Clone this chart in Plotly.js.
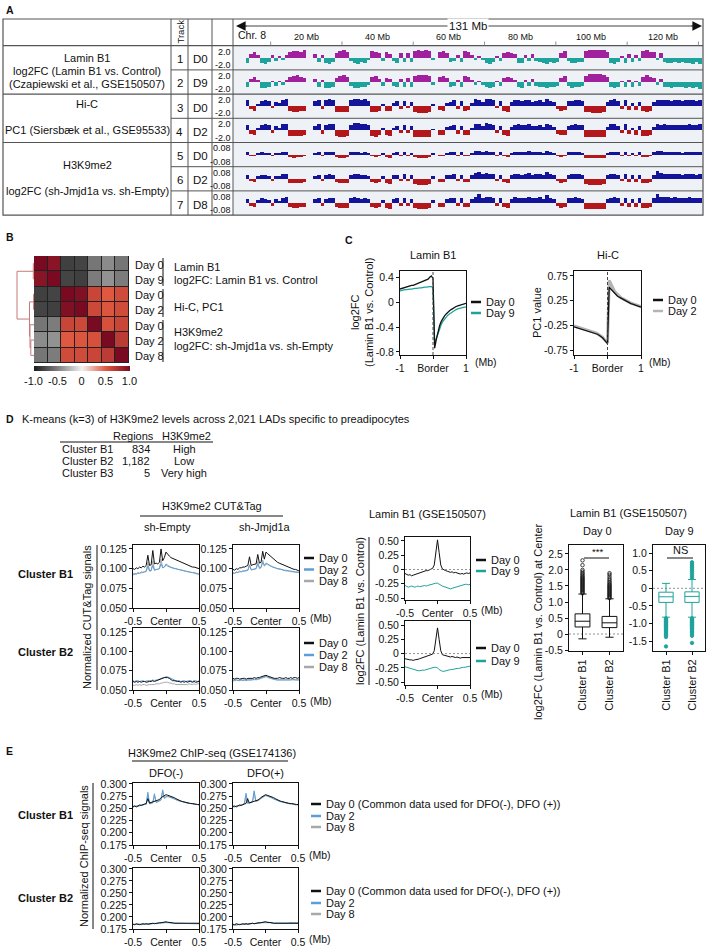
<!DOCTYPE html>
<html>
<head>
<meta charset="utf-8">
<script src="https://cdn.plot.ly/plotly-3.0.1.min.js"></script>
<style>
  html, body { margin: 0; padding: 0; background: #fff; }
  #fig { width: 709px; height: 948px; }
</style>
</head>
<body>
<div id="fig"></div>
<script>
// ---------------- Panel A: chr8 genome tracks, 1 Mb bins (0-131 Mb) ----------------
const chrLabels = ['20 Mb','40 Mb','60 Mb','80 Mb','100 Mb','120 Mb'];
const chrLabelPos = [20, 40, 60, 80, 100, 120];
const chrMinorPos = [10, 30, 50, 70, 90, 110, 130];

const laminD0 = [0,0,0,-1.0,0.8,1.2,0.6,-1.0,-1.2,-0.8,
 0.5,-0.6,0.4,-0.5,0.6,1.2,1.3,1.4,1.2,1.5,
 0,0,0.8,-0.8,0.6,-1.0,-1.2,-0.9,1.0,1.4,
 1.5,1.1,-0.6,-1.0,-1.2,-0.8,-1.0,-0.5,1.3,1.2,
 0.9,-0.6,1.1,0.8,-0.7,-1.0,0.9,-0.9,1.0,-0.8,
 1.3,1.5,1.4,1.5,1.3,-0.5,0,1.1,1.3,1.0,
 -0.9,-0.7,0.6,-0.8,1.3,1.1,0.5,-0.5,0.4,-0.4,
 -1.0,-1.2,-0.8,0.3,-0.6,0.9,1.2,1.0,0.7,-1.0,
 -1.1,0.6,-0.7,0.8,-0.6,-0.9,-1.0,-1.2,-0.9,-1.0,
 -0.8,0.9,1.3,-0.7,-1.1,-1.0,-0.9,-0.8,1.4,1.6,
 1.6,1.5,1.6,1.5,1.2,-1.0,-1.2,-0.8,0.4,-1.0,
 0.7,-0.8,0.5,-0.6,1.3,1.5,1.1,1.2,-0.5,0.9,
 -0.8,-1.0,-1.1,-0.9,-1.0,-0.8,-1.1,-1.0,-1.2,-0.9,
 -1.3];
const laminD9 = [0,0,0,-1.1,0.6,1.0,0.5,-1.2,-1.3,-1.0,
 0.3,-0.8,0.3,-0.7,0.5,1.0,1.3,1.4,1.1,0.9,
 0,0,0.6,-1.0,0.5,-1.2,-1.3,-1.0,0.9,1.3,
 1.4,1.0,-0.8,-1.2,-1.3,-1.0,-1.1,-0.7,1.1,1.2,
 0.7,-0.8,0.9,0.7,-0.9,-1.1,0.6,-1.0,0.8,-1.0,
 1.2,1.5,1.5,1.4,1.2,-0.7,0,1.0,1.2,0.9,
 -1.0,-0.9,0.4,-1.0,1.2,1.0,0.4,-0.7,0.3,-0.6,
 -1.1,-1.3,-1.0,0.2,-0.8,0.8,1.1,0.9,0.5,-1.1,
 -1.2,0.4,-0.9,0.6,-0.8,-1.0,-1.1,-1.3,-1.0,-1.1,
 -0.9,0.8,1.2,-0.9,-1.2,-1.1,-1.0,-0.9,1.3,1.6,
 1.6,1.6,1.6,1.5,1.1,-1.1,-1.3,-1.0,0.3,-1.1,
 0.5,-1.0,0.3,-0.8,1.1,1.4,1.0,0.9,-0.7,0.7,
 -1.0,-1.1,-1.2,-1.0,-1.1,-1.0,-1.2,-1.1,-1.3,-1.0,
 -1.4];
const pc1D0 = [0,0,0,1.2,-0.6,-0.9,0.5,1.0,1.2,1.1,
 -0.4,0.8,0.6,1.3,1.4,-1.0,-1.1,-1.1,-1.0,-0.9,
 0,0,1.0,1.3,-0.6,1.2,1.4,1.3,-1.1,-1.2,
 -1.2,-1.1,1.2,1.5,1.5,1.3,1.4,1.1,-1.1,-1.2,
 -0.9,0.5,-0.9,-1.0,0.6,1.0,-0.5,1.1,-0.4,0.9,
 -1.2,-1.3,-1.3,-1.3,-1.2,0.4,0,-0.8,-0.9,0.7,
 0.9,1.2,-0.6,1.0,-0.9,-0.8,0.6,1.4,1.3,0.9,
 1.5,1.4,1.2,-0.4,1.0,-0.9,-1.1,0.8,1.2,1.3,
 1.1,1.2,1.3,0.9,1.0,1.2,0.8,1.4,1.1,0.8,
 -0.6,-0.9,-0.8,1.0,1.1,1.3,1.2,1.1,-1.2,-1.2,
 -1.3,-1.3,-1.3,-1.2,0.8,1.3,1.4,1.0,-0.5,1.3,
 -0.7,0.6,-0.8,0.9,-1.0,-1.1,-0.9,0.8,1.3,1.2,
 1.3,1.2,1.1,1.2,1.2,1.1,1.2,1.3,1.2,1.1,
 1.3];
const pc1D2 = [0,0,0,1.1,-0.7,-1.0,0.4,1.1,1.3,1.0,
 -0.5,0.9,0.5,1.2,1.3,-1.1,-1.2,-1.2,-1.1,-1.0,
 0,0,0.9,1.2,-0.7,1.1,1.3,1.2,-1.2,-1.3,
 -1.3,-1.2,1.1,1.4,1.4,1.2,1.3,1.0,-1.2,-1.3,
 -1.0,0.4,-1.0,-1.1,0.5,0.9,-0.6,1.0,-0.5,0.8,
 -1.3,-1.4,-1.4,-1.4,-1.3,0.3,0,-0.9,-1.0,0.6,
 0.8,1.1,-0.7,0.9,-1.0,-0.9,0.5,1.3,1.2,0.8,
 1.4,1.3,1.1,-0.5,0.9,-1.0,-1.2,0.7,1.1,1.2,
 1.0,1.1,1.2,0.8,0.9,1.1,0.7,1.3,1.0,0.7,
 -0.7,-1.0,-0.9,0.9,1.0,1.2,1.1,1.0,-1.3,-1.3,
 -1.4,-1.4,-1.4,-1.3,0.7,1.2,1.3,0.9,-0.6,1.2,
 -0.8,0.5,-0.9,0.8,-1.1,-1.2,-1.0,0.7,1.2,1.1,
 1.2,1.1,1.0,1.1,1.1,1.0,1.1,1.2,1.1,1.0,
 1.2];
const k9D0 = [0,0,0,0.02,-0.01,-0.015,0.01,0.02,0.015,0.01,
 -0.01,0.015,0.01,0.02,0.025,-0.02,-0.025,-0.02,-0.02,-0.015,
 0,0,0.015,0.02,-0.01,0.02,0.025,0.02,-0.02,-0.025,
 -0.025,-0.02,0.02,0.025,0.02,0.015,0.02,0.015,-0.015,-0.02,
 -0.015,0.01,-0.02,-0.025,0.015,0.02,-0.01,0.02,-0.01,0.015,
 -0.02,-0.025,-0.03,-0.025,-0.02,0.01,0,-0.015,-0.01,0.015,
 0.02,0.025,-0.01,0.02,-0.015,-0.01,0.015,0.03,0.035,0.02,
 0.03,0.025,0.02,-0.01,0.02,-0.015,-0.02,0.015,0.025,0.02,
 0.02,0.025,0.03,0.02,0.02,0.025,0.015,0.03,0.02,0.015,
 -0.01,-0.02,-0.015,0.02,0.02,0.025,0.02,0.015,-0.025,-0.03,
 -0.03,-0.03,-0.03,-0.025,0.015,0.02,0.025,0.02,-0.01,0.025,
 -0.015,0.015,-0.015,0.02,-0.02,-0.02,-0.015,0.02,0.035,0.03,
 0.025,0.02,0.02,0.02,0.02,0.015,0.02,0.02,0.025,0.02,
 0.02];
const k9D2 = [0,0,0,0.03,-0.02,-0.03,0.02,0.035,0.03,0.02,
 -0.02,0.025,0.02,0.04,0.045,-0.035,-0.04,-0.04,-0.035,-0.03,
 0,0,0.025,0.035,-0.02,0.03,0.04,0.035,-0.03,-0.04,
 -0.04,-0.035,0.035,0.045,0.04,0.03,0.035,0.025,-0.03,-0.035,
 -0.03,0.02,-0.04,-0.045,0.03,0.035,-0.02,0.04,-0.02,0.03,
 -0.045,-0.05,-0.05,-0.05,-0.045,0.02,0,-0.03,-0.025,0.03,
 0.035,0.04,-0.02,0.035,-0.03,-0.025,0.03,0.05,0.055,0.04,
 0.05,0.045,0.04,-0.02,0.035,-0.03,-0.035,0.03,0.045,0.04,
 0.035,0.04,0.05,0.035,0.04,0.045,0.03,0.06,0.04,0.03,
 -0.02,-0.035,-0.03,0.035,0.04,0.045,0.04,0.03,-0.045,-0.05,
 -0.05,-0.05,-0.05,-0.045,0.03,0.04,0.045,0.035,-0.02,0.04,
 -0.025,0.03,-0.03,0.035,-0.035,-0.04,-0.03,0.035,0.065,0.05,
 0.045,0.045,0.04,0.045,0.04,0.035,0.04,0.045,0.04,0.035,
 0.04];
const k9D8 = [0,0,0,0.035,-0.025,-0.03,0.025,0.04,0.03,0.025,
 -0.025,0.03,0.02,0.045,0.05,-0.035,-0.045,-0.04,-0.035,-0.03,
 0,0,0.03,0.04,-0.025,0.035,0.045,0.04,-0.035,-0.045,
 -0.045,-0.04,0.04,0.05,0.045,0.035,0.04,0.03,-0.035,-0.04,
 -0.03,0.025,-0.04,-0.05,0.035,0.04,-0.025,0.045,-0.025,0.035,
 -0.045,-0.05,-0.055,-0.05,-0.045,0.025,0,-0.035,-0.03,0.035,
 0.04,0.045,-0.025,0.04,-0.03,-0.03,0.035,0.055,0.075,0.045,
 0.055,0.05,0.045,-0.025,0.04,-0.035,-0.04,0.035,0.05,0.045,
 0.04,0.045,0.055,0.04,0.045,0.05,0.035,0.065,0.045,0.035,
 -0.025,-0.04,-0.035,0.04,0.045,0.05,0.045,0.035,-0.05,-0.055,
 -0.055,-0.055,-0.055,-0.05,0.035,0.045,0.05,0.04,-0.025,0.045,
 -0.03,0.035,-0.035,0.04,-0.04,-0.045,-0.035,0.04,0.075,0.055,
 0.05,0.05,0.045,0.05,0.045,0.04,0.045,0.05,0.045,0.04,
 0.045];

const trackNums = ['1','2','3','4','5','6','7'];
const trackDays = ['D0','D9','D0','D2','D0','D2','D8'];
const trackScaleTop = ['2.0','2.0','2.0','2.0','0.08','0.08','0.08'];
const trackScaleBot = ['-2.0','-2.0','-2.0','-2.0','-0.08','-0.08','-0.08'];

// ---------------- Panel B: correlation heatmap ----------------
const corrLabels = ['Day 0','Day 9','Day 0','Day 2','Day 0','Day 2','Day 8'];
const corrMatrix = [
  [ 1.00, 0.93,-0.82,-0.80,-0.55,-0.45,-0.55],
  [ 0.93, 1.00,-0.80,-0.82,-0.52,-0.42,-0.52],
  [-0.82,-0.80, 1.00, 0.96, 0.62, 0.50, 0.58],
  [-0.80,-0.82, 0.96, 1.00, 0.60, 0.52, 0.58],
  [-0.55,-0.52, 0.62, 0.60, 1.00, 0.55, 0.62],
  [-0.45,-0.42, 0.50, 0.52, 0.55, 1.00, 0.68],
  [-0.55,-0.52, 0.58, 0.58, 0.62, 0.68, 1.00]];
// merges of the row dendrogram: child a, child b, merge height (new node ids start at 7)
const dendroMerges = [[0,1,0.07],[2,3,0.04],[5,6,0.32],[4,9,0.40],[8,10,0.45],[7,11,1.70]];
const colorTicks = [-1,-0.5,0,0.5,1];
const colorTickText = ['-1.0','-0.5','0','0.5','1.0'];

// ---------------- Panel C: profiles across LAD borders ----------------
const borderX = [-1,-0.95,-0.9,-0.85,-0.8,-0.75,-0.7,-0.65,-0.6,-0.55,-0.5,-0.45,-0.4,-0.35,-0.3,-0.25,-0.2,-0.15,-0.1,-0.05,0,0.05,0.1,0.15,0.2,0.25,0.3,0.35,0.4,0.45,0.5,0.55,0.6,0.65,0.7,0.75,0.8,0.85,0.9,0.95,1];
const borderLaminD0 = [0.21,0.22,0.23,0.24,0.25,0.25,0.26,0.27,0.27,0.28,
 0.29,0.30,0.31,0.32,0.33,0.34,0.35,0.37,0.40,0.42,
 0.38,-0.74,-0.60,-0.48,-0.38,-0.31,-0.26,-0.22,-0.19,-0.16,
 -0.14,-0.12,-0.10,-0.08,-0.07,-0.06,-0.05,-0.04,-0.03,-0.02,-0.02];
const borderLaminD9 = [0.18,0.19,0.19,0.20,0.20,0.21,0.21,0.21,0.22,0.22,
 0.22,0.23,0.23,0.23,0.24,0.24,0.24,0.25,0.25,0.25,
 0.23,-0.66,-0.58,-0.50,-0.42,-0.36,-0.31,-0.27,-0.24,-0.21,
 -0.19,-0.17,-0.15,-0.14,-0.12,-0.11,-0.10,-0.09,-0.09,-0.08,-0.08];
const borderPC1D0 = [-0.28,-0.29,-0.30,-0.31,-0.32,-0.33,-0.34,-0.35,-0.36,-0.37,
 -0.38,-0.39,-0.40,-0.42,-0.43,-0.45,-0.47,-0.50,-0.54,-0.58,
 -0.62,0.52,0.48,0.44,0.40,0.37,0.34,0.32,0.30,0.28,
 0.26,0.24,0.22,0.21,0.19,0.18,0.17,0.15,0.14,0.13,0.12];
const borderPC1D2 = [-0.26,-0.27,-0.28,-0.29,-0.30,-0.31,-0.32,-0.33,-0.34,-0.35,
 -0.36,-0.37,-0.39,-0.40,-0.42,-0.44,-0.46,-0.49,-0.53,-0.57,
 -0.60,0.66,0.58,0.51,0.45,0.41,0.37,0.34,0.31,0.29,
 0.27,0.25,0.23,0.22,0.20,0.19,0.18,0.16,0.15,0.14,0.13];

// ---------------- Panel D: k-means clusters ----------------
const clusterNames = ['Cluster B1','Cluster B2','Cluster B3'];
const clusterRegions = ['834','1,182','5'];
const clusterLevel = ['High','Low','Very high'];

const centerX = [-0.5,-0.475,-0.45,-0.425,-0.4,-0.375,-0.35,-0.325,-0.3,-0.275,-0.25,-0.225,-0.2,-0.175,-0.15,-0.125,-0.1,-0.075,-0.05,-0.025,0,0.025,0.05,0.075,0.1,0.125,0.15,0.175,0.2,0.225,0.25,0.275,0.3,0.325,0.35,0.375,0.4,0.425,0.45,0.475,0.5];

// CUT&Tag, Cluster B1
const ctB1EmptyD0 = [0.100,0.099,0.101,0.100,0.102,0.101,0.103,0.102,0.104,0.117,
 0.104,0.105,0.123,0.106,0.107,0.106,0.108,0.125,0.110,0.114,
 0.121,0.118,0.116,0.114,0.113,0.112,0.111,0.110,0.109,0.108,
 0.107,0.106,0.105,0.104,0.104,0.103,0.102,0.102,0.101,0.100,0.100];
const ctB1EmptyD2 = [0.093,0.094,0.093,0.095,0.094,0.096,0.095,0.096,0.097,0.103,
 0.097,0.098,0.104,0.098,0.099,0.099,0.100,0.106,0.101,0.102,
 0.105,0.103,0.102,0.101,0.101,0.100,0.100,0.099,0.099,0.098,
 0.098,0.097,0.097,0.096,0.096,0.095,0.095,0.095,0.094,0.094,0.093];
const ctB1EmptyD8 = [0.092,0.093,0.093,0.094,0.094,0.095,0.095,0.096,0.096,0.108,
 0.097,0.097,0.110,0.098,0.099,0.099,0.100,0.112,0.101,0.102,
 0.106,0.104,0.103,0.102,0.101,0.101,0.100,0.099,0.099,0.098,
 0.098,0.097,0.097,0.096,0.096,0.095,0.095,0.094,0.094,0.093,0.093];
const ctB1JmjdD0 = [0.099,0.098,0.100,0.099,0.101,0.101,0.102,0.102,0.103,0.104,
 0.115,0.104,0.105,0.106,0.106,0.118,0.107,0.108,0.122,0.112,
 0.121,0.119,0.117,0.115,0.113,0.111,0.110,0.108,0.107,0.106,
 0.105,0.104,0.103,0.102,0.101,0.101,0.100,0.099,0.099,0.098,0.097];
const ctB1JmjdD2 = [0.095,0.094,0.096,0.095,0.097,0.096,0.097,0.097,0.098,0.098,
 0.104,0.099,0.099,0.100,0.100,0.106,0.101,0.102,0.108,0.104,
 0.107,0.106,0.104,0.103,0.102,0.101,0.101,0.100,0.100,0.099,
 0.099,0.098,0.098,0.097,0.097,0.097,0.096,0.096,0.096,0.095,0.095];
const ctB1JmjdD8 = [0.094,0.094,0.095,0.095,0.096,0.096,0.097,0.097,0.097,0.098,
 0.105,0.098,0.099,0.099,0.100,0.109,0.100,0.101,0.111,0.103,
 0.106,0.105,0.104,0.103,0.102,0.101,0.100,0.100,0.099,0.099,
 0.098,0.098,0.097,0.097,0.097,0.096,0.096,0.096,0.095,0.095,0.095];
// CUT&Tag, Cluster B2
const ctB2EmptyD0 = [0.061,0.060,0.061,0.060,0.061,0.060,0.061,0.061,0.060,0.061,
 0.061,0.061,0.062,0.061,0.062,0.062,0.063,0.064,0.065,0.066,
 0.066,0.066,0.065,0.063,0.062,0.062,0.061,0.061,0.061,0.060,
 0.061,0.060,0.061,0.060,0.061,0.061,0.060,0.061,0.060,0.061,0.061];
const ctB2EmptyD2 = [0.062,0.061,0.062,0.062,0.061,0.062,0.062,0.061,0.062,0.062,
 0.062,0.062,0.063,0.062,0.063,0.063,0.064,0.065,0.066,0.067,
 0.067,0.067,0.066,0.064,0.063,0.063,0.062,0.062,0.062,0.061,
 0.062,0.062,0.061,0.062,0.062,0.062,0.061,0.062,0.062,0.061,0.062];
const ctB2EmptyD8 = [0.056,0.056,0.057,0.056,0.057,0.056,0.057,0.057,0.056,0.057,
 0.057,0.057,0.057,0.057,0.058,0.058,0.058,0.059,0.059,0.060,
 0.060,0.060,0.059,0.059,0.058,0.058,0.057,0.057,0.057,0.057,
 0.057,0.057,0.057,0.057,0.058,0.057,0.057,0.058,0.057,0.058,0.058];
const ctB2JmjdD0 = [0.065,0.064,0.065,0.065,0.064,0.065,0.065,0.065,0.064,0.065,
 0.065,0.065,0.065,0.066,0.065,0.066,0.066,0.067,0.068,0.069,
 0.069,0.068,0.067,0.066,0.066,0.065,0.065,0.065,0.066,0.065,
 0.065,0.065,0.066,0.065,0.065,0.066,0.065,0.066,0.066,0.065,0.066];
const ctB2JmjdD2 = [0.062,0.062,0.063,0.062,0.062,0.063,0.062,0.063,0.062,0.063,
 0.063,0.063,0.063,0.064,0.063,0.064,0.065,0.066,0.067,0.068,
 0.068,0.067,0.066,0.065,0.064,0.064,0.063,0.063,0.063,0.063,
 0.063,0.063,0.063,0.063,0.063,0.063,0.064,0.063,0.063,0.063,0.063];
const ctB2JmjdD8 = [0.063,0.063,0.063,0.062,0.063,0.063,0.063,0.063,0.063,0.063,
 0.063,0.063,0.064,0.063,0.064,0.064,0.064,0.065,0.066,0.067,
 0.067,0.066,0.065,0.065,0.064,0.064,0.063,0.063,0.063,0.063,
 0.063,0.063,0.063,0.063,0.063,0.063,0.063,0.063,0.063,0.063,0.063];

// Lamin B1 log2FC around cluster centers
const lmB1D0 = [-0.07,-0.09,-0.10,-0.09,-0.11,-0.10,-0.09,-0.08,-0.06,-0.05,
 -0.04,-0.04,-0.03,-0.02,-0.02,-0.01,0.00,0.02,0.08,0.26,
 0.52,0.30,0.08,0.01,-0.01,-0.02,-0.03,-0.04,-0.05,-0.04,
 -0.06,-0.05,-0.06,-0.07,-0.08,-0.07,-0.08,-0.07,-0.06,-0.07,-0.06];
const lmB1D9 = [-0.28,-0.30,-0.31,-0.30,-0.29,-0.30,-0.31,-0.30,-0.29,-0.30,
 -0.30,-0.29,-0.28,-0.29,-0.28,-0.27,-0.27,-0.26,-0.25,-0.24,
 -0.24,-0.26,-0.28,-0.29,-0.30,-0.31,-0.32,-0.33,-0.34,-0.33,
 -0.32,-0.31,-0.30,-0.29,-0.28,-0.28,-0.27,-0.26,-0.26,-0.27,-0.26];
const lmB2D0 = [-0.09,-0.10,-0.10,-0.11,-0.11,-0.12,-0.11,-0.11,-0.10,-0.09,
 -0.08,-0.07,-0.06,-0.05,-0.05,-0.04,-0.03,-0.01,0.05,0.22,
 0.45,0.25,0.05,-0.02,-0.03,-0.03,-0.04,-0.05,-0.06,-0.05,
 -0.06,-0.07,-0.06,-0.07,-0.08,-0.07,-0.07,-0.06,-0.07,-0.07,-0.07];
const lmB2D9 = [-0.23,-0.24,-0.25,-0.26,-0.27,-0.28,-0.29,-0.30,-0.30,-0.30,
 -0.29,-0.29,-0.29,-0.28,-0.28,-0.27,-0.26,-0.25,-0.24,-0.24,
 -0.25,-0.28,-0.30,-0.31,-0.31,-0.30,-0.30,-0.29,-0.28,-0.28,
 -0.27,-0.27,-0.26,-0.26,-0.25,-0.25,-0.24,-0.24,-0.23,-0.23,-0.22];

// Lamin B1 log2FC at cluster centers: box statistics and outliers
const boxCats = ['Cluster B1','Cluster B2'];
const boxD0 = {q1:[0.22,0.20], median:[0.40,0.35], q3:[0.63,0.55], lo:[-0.15,-0.10], hi:[1.25,1.10]};
const boxD9 = {q1:[-0.40,-0.40], median:[-0.24,-0.23], q3:[-0.11,-0.10], lo:[-0.82,-0.82], hi:[0.14,0.25]};
const outD0B1 = [1.27,1.30,1.33,1.36,1.39,1.42,1.45,1.48,1.51,1.54,1.57,1.60,1.63,1.66,1.69,1.72,1.75,1.78,1.82,1.86,1.90,1.95,2.00,2.15,2.30];
const outD0B2 = [1.12,1.15,1.18,1.21,1.24,1.27,1.30,1.33,1.36,1.39,1.42,1.45,1.48,1.51,1.54,1.58,1.62,1.67,1.72,1.78,1.85,1.90];
const outD9B1 = [-0.85,-0.88,-0.91,-0.94,-0.97,-1.00,-1.03,-1.06,-1.09,-1.12,-1.15,-1.18,-1.21,-1.24,-1.27,-1.30,-1.34,-1.38,-1.65];
const outD9B2 = [0.30,0.36,0.42,0.48,0.53,0.58,0.63,0.68,0.74,-0.85,-0.88,-0.91,-0.94,-0.97,-1.00,-1.03,-1.06,-1.09,-1.12,-1.15,-1.18,-1.22,-1.26,-1.30,-1.35,-1.55];

// ---------------- Panel E: H3K9me2 ChIP-seq ----------------
const chipB1D0 = [0.254,0.255,0.253,0.256,0.257,0.256,0.258,0.259,0.260,0.270,
 0.261,0.262,0.263,0.264,0.266,0.267,0.268,0.272,0.274,0.276,
 0.278,0.277,0.276,0.275,0.273,0.272,0.270,0.268,0.267,0.265,
 0.264,0.263,0.262,0.262,0.261,0.260,0.260,0.259,0.259,0.258,0.258];
const chipB1MinusD2 = [0.253,0.254,0.255,0.254,0.256,0.257,0.257,0.258,0.259,0.283,
 0.260,0.261,0.262,0.280,0.263,0.264,0.266,0.268,0.288,0.271,
 0.274,0.275,0.274,0.273,0.271,0.270,0.268,0.267,0.266,0.264,
 0.263,0.262,0.262,0.261,0.260,0.260,0.259,0.259,0.258,0.258,0.257];
const chipB1MinusD8 = [0.252,0.254,0.254,0.255,0.255,0.256,0.257,0.258,0.258,0.278,
 0.259,0.260,0.261,0.276,0.262,0.263,0.265,0.267,0.284,0.270,
 0.273,0.274,0.273,0.272,0.270,0.269,0.268,0.266,0.265,0.264,
 0.263,0.262,0.261,0.261,0.260,0.260,0.259,0.258,0.258,0.258,0.257];
const chipB1PlusD2 = [0.254,0.253,0.255,0.256,0.255,0.257,0.258,0.260,0.281,0.261,
 0.262,0.263,0.264,0.286,0.265,0.266,0.268,0.270,0.273,0.275,
 0.277,0.276,0.275,0.273,0.272,0.270,0.268,0.267,0.265,0.264,
 0.263,0.262,0.262,0.261,0.260,0.260,0.259,0.259,0.258,0.258,0.258];
const chipB1PlusD8 = [0.253,0.253,0.254,0.255,0.256,0.256,0.257,0.259,0.277,0.260,
 0.261,0.262,0.263,0.282,0.264,0.265,0.267,0.269,0.272,0.274,
 0.276,0.275,0.274,0.272,0.271,0.269,0.268,0.266,0.265,0.264,
 0.263,0.262,0.261,0.260,0.260,0.259,0.259,0.258,0.258,0.257,0.257];
const chipB2D0 = [0.185,0.184,0.186,0.185,0.184,0.185,0.186,0.185,0.186,0.185,
 0.186,0.186,0.187,0.186,0.187,0.187,0.188,0.188,0.189,0.189,
 0.190,0.189,0.189,0.188,0.188,0.187,0.187,0.187,0.186,0.187,
 0.186,0.186,0.187,0.186,0.186,0.187,0.186,0.186,0.187,0.186,0.187];
const chipB2MinusD2 = [0.184,0.185,0.184,0.185,0.185,0.184,0.185,0.186,0.185,0.186,
 0.185,0.186,0.186,0.187,0.186,0.187,0.187,0.188,0.188,0.189,
 0.189,0.189,0.188,0.188,0.187,0.187,0.187,0.186,0.187,0.186,
 0.186,0.187,0.186,0.186,0.186,0.187,0.186,0.187,0.186,0.186,0.186];
const chipB2MinusD8 = [0.185,0.184,0.185,0.185,0.184,0.185,0.185,0.185,0.186,0.185,
 0.186,0.186,0.186,0.186,0.187,0.187,0.187,0.188,0.188,0.188,
 0.189,0.189,0.188,0.188,0.187,0.187,0.186,0.187,0.186,0.186,
 0.187,0.186,0.186,0.186,0.187,0.186,0.186,0.186,0.187,0.186,0.186];
const chipB2PlusD2 = [0.183,0.184,0.183,0.184,0.185,0.184,0.185,0.185,0.186,0.185,
 0.186,0.186,0.187,0.186,0.187,0.187,0.188,0.188,0.189,0.189,
 0.190,0.189,0.189,0.188,0.188,0.187,0.187,0.186,0.187,0.186,
 0.187,0.187,0.186,0.187,0.187,0.188,0.187,0.187,0.188,0.187,0.187];
const chipB2PlusD8 = [0.184,0.183,0.184,0.184,0.184,0.185,0.184,0.185,0.185,0.186,
 0.185,0.186,0.186,0.187,0.186,0.187,0.187,0.188,0.188,0.188,
 0.189,0.189,0.188,0.188,0.187,0.187,0.187,0.187,0.186,0.187,
 0.187,0.186,0.187,0.187,0.187,0.187,0.188,0.187,0.187,0.187,0.188];

// ================= drawing =================
const W = 709, H = 948;
const fx = p => p / W;
const fy = p => 1 - p / H;
const FONT = '"Liberation Sans", Arial, Helvetica, sans-serif';
const LF = 11;      // label font size
const TF = 10.5;    // tick label font size
const C = {
  ink: '#111111', magenta: '#a0209e', teal: '#1ea39c', navy: '#14149a', red: '#b3161b',
  day2: '#5c9fd8', day8: '#a8a8a8', hic2: '#b4b4b4', dendro: '#c77b7b', grid: '#555555'
};

const layout = {
  width: W, height: H, margin: {l: 0, r: 0, t: 0, b: 0},
  paper_bgcolor: '#ffffff', plot_bgcolor: 'rgba(0,0,0,0)',
  font: {family: FONT, size: LF, color: C.ink},
  showlegend: false, bargap: 0, hovermode: false,
  annotations: [], shapes: []
};
const traces = [];
let axN = 0;
function addAxes(x0, x1, y0, y1, xo, yo) {
  axN++;
  const s = axN === 1 ? '' : String(axN);
  layout['xaxis' + s] = Object.assign({domain: [fx(x0), fx(x1)], anchor: 'y' + s, showgrid: false, zeroline: false}, xo || {});
  layout['yaxis' + s] = Object.assign({domain: [fy(y1), fy(y0)], anchor: 'x' + s, showgrid: false, zeroline: false}, yo || {});
  return {x: 'x' + s, y: 'y' + s};
}
function txt(x, y, text, o, size) {
  const a = Object.assign({xref: 'paper', yref: 'paper', x: fx(x), y: fy(y), text: text, showarrow: false,
    xanchor: 'center', yanchor: 'middle', font: {size: size || LF, color: C.ink}}, o || {});
  layout.annotations.push(a);
}
function seg(x0, y0, x1, y1, color, width, extra) {
  layout.shapes.push(Object.assign({type: 'line', xref: 'paper', yref: 'paper', x0: fx(x0), y0: fy(y0), x1: fx(x1), y1: fy(y1),
    line: {color: color || C.ink, width: width || 1}}, extra || {}));
}
function lineTrace(ax, x, y, color, width) {
  traces.push({type: 'scatter', mode: 'lines', x: x, y: y, line: {color: color, width: width || 1}, xaxis: ax.x, yaxis: ax.y, hoverinfo: 'skip'});
}
function legendBlock(x, ys, labels, colors) {
  ys.forEach((y, i) => {
    seg(x, y, x + 10, y, colors[i], 2.5);
    txt(x + 13, y, labels[i], {xanchor: 'left'});
  });
}
const frame = {showline: true, linecolor: C.ink, linewidth: 1, mirror: true, ticks: 'outside', ticklen: 3,
  tickwidth: 1, tickcolor: C.ink, tickfont: {size: TF, color: C.ink}};
const fr = o => Object.assign({}, frame, o);

// ---------- Panel A ----------
txt(4, 10, '<b>A</b>', {xanchor: 'left'}, 10.5);
const rowTop = 45.7, rowH = 24.2, tabL = 3, tabR = 703, tabT = 19, tabB = rowTop + 7 * rowH;
const trackL = 235, trackR = 702;
const trackData = [laminD0, laminD9, pc1D0, pc1D2, k9D0, k9D2, k9D8];
const trackCols = [[C.magenta, C.teal], [C.magenta, C.teal], [C.navy, C.red], [C.navy, C.red], [C.navy, C.red], [C.navy, C.red], [C.navy, C.red]];
const trackRange = [2.25, 2.25, 2.25, 2.25, 0.095, 0.095, 0.095];
let trackAx0 = null;
for (let i = 0; i < 7; i++) {
  const t = rowTop + i * rowH, b = t + rowH;
  layout.shapes.push({type: 'rect', xref: 'paper', yref: 'paper', x0: fx(233), x1: fx(tabR), y0: fy(b), y1: fy(t),
    fillcolor: '#eef2f6', line: {width: 0}, layer: 'below'});
  const ax = addAxes(trackL, trackR, t + 1, b - 1,
    {range: [0, 131], visible: false, fixedrange: true},
    {range: [-trackRange[i], trackRange[i]], visible: false, fixedrange: true});
  if (i === 0) trackAx0 = ax;
  const v = trackData[i];
  traces.push({type: 'bar', x: v.map((_, k) => k + 0.5), y: v, width: 1,
    marker: {color: v.map(d => d >= 0 ? trackCols[i][0] : trackCols[i][1]), line: {width: 0}},
    xaxis: ax.x, yaxis: ax.y, hoverinfo: 'skip'});
  txt(179.5, t + rowH / 2 + 1.5, trackNums[i], {}, 11.5);
  txt(200, t + rowH / 2 + 1.5, trackDays[i], {}, 11.5);
  txt(233, t + 6, trackScaleTop[i], {xanchor: 'right'}, 9);
  txt(233, b - 5, trackScaleBot[i], {xanchor: 'right'}, 9);
}
// table grid
layout.shapes.push({type: 'rect', xref: 'paper', yref: 'paper', x0: fx(tabL), x1: fx(tabR), y0: fy(tabB), y1: fy(tabT), line: {color: C.grid, width: 1.2}});
[171, 188, 212, 233].forEach(x => seg(x, tabT, x, tabB, C.grid, 1));
seg(tabL, rowTop, tabR, rowTop, C.grid, 1.2);
for (let i = 1; i < 7; i++) {
  const y = rowTop + i * rowH;
  if (i === 2 || i === 4) seg(tabL, y, tabR, y, C.grid, 1.2);
  else seg(171, y, tabR, y, C.grid, 1);
}
const TBL = 11;
txt(87, 58, 'Lamin B1', {}, TBL);
txt(87, 71, 'log2FC (Lamin B1 vs. Control)', {}, TBL);
txt(87, 84, '(Czapiewski et al., GSE150507)', {}, TBL);
txt(87, 104, 'Hi-C', {}, TBL);
txt(87, 130, 'PC1 (Siersbæk et al., GSE95533)', {}, TBL);
txt(87, 165, 'H3K9me2', {}, TBL);
txt(87, 191, 'log2FC (sh-Jmjd1a vs. sh-Empty)', {}, TBL);
txt(179.5, 32, 'Track', {textangle: -90}, 9.5);
txt(236, 35, 'Chr. 8', {xanchor: 'left'}, 10.5);
// chromosome ruler
chrLabelPos.forEach((p, i) => layout.annotations.push({xref: trackAx0.x, yref: 'paper', x: p, y: fy(37.5), text: chrLabels[i],
  showarrow: false, xanchor: 'center', yanchor: 'middle', font: {size: 9, color: C.ink}}));
chrMinorPos.forEach(p => layout.shapes.push({type: 'line', xref: trackAx0.x, yref: 'paper', x0: p, x1: p, y0: fy(41.5), y1: fy(45.7),
  line: {color: '#777', width: 0.8}}));
seg(246, 26, 692, 26, C.ink, 0.8);
layout.annotations.push({xref: 'paper', yref: 'paper', x: fx(702), y: fy(26), ax: -12, ay: 0, text: '', showarrow: true,
  arrowhead: 2, arrowsize: 1.6, arrowwidth: 1.2, arrowcolor: C.ink});
layout.annotations.push({xref: 'paper', yref: 'paper', x: fx(236), y: fy(26), ax: 12, ay: 0, text: '', showarrow: true,
  arrowhead: 2, arrowsize: 1.6, arrowwidth: 1.2, arrowcolor: C.ink});
txt(468, 26, '131 Mb', {bgcolor: '#ffffff'}, 11.5);

// ---------- Panel B ----------
txt(4, 237, '<b>B</b>', {xanchor: 'left'}, 10.5);
const hmTop = 256, hmBot = 363;
const hm = addAxes(34, 129, hmTop, hmBot, {range: [-0.5, 6.5], visible: false, fixedrange: true},
  {range: [6.5, -0.5], visible: false, fixedrange: true});
layout.shapes.push({type: 'rect', xref: hm.x, yref: hm.y, x0: -0.5, x1: 6.5, y0: -0.5, y1: 6.5, fillcolor: '#222', line: {width: 0}, layer: 'below'});
traces.push({type: 'heatmap', z: corrMatrix, x: [0, 1, 2, 3, 4, 5, 6], y: [0, 1, 2, 3, 4, 5, 6], zmin: -1, zmax: 1,
  xgap: 1, ygap: 1, xaxis: hm.x, yaxis: hm.y, hoverinfo: 'skip',
  colorscale: [[0, '#1c1c1c'], [0.25, '#808080'], [0.5, '#f2f2f2'], [0.75, '#e0583f'], [1, '#7a0a22']],
  colorbar: {orientation: 'h', x: fx(81.5), xanchor: 'center', y: fy(366), yanchor: 'top', len: 96, lenmode: 'pixels',
    thickness: 5, thicknessmode: 'pixels', outlinewidth: 0, xpad: 0, ypad: 0, ticks: '', tickvals: colorTicks,
    ticktext: colorTickText, tickfont: {size: LF, color: C.ink}}});
// dendrogram
const dg = addAxes(16, 34, hmTop, hmBot, {range: [1.8, 0], visible: false, fixedrange: true}, {range: [6.5, -0.5], visible: false, fixedrange: true});
const nodePos = [0, 1, 2, 3, 4, 5, 6], nodeH = [0, 0, 0, 0, 0, 0, 0];
const dgx = [], dgy = [];
dendroMerges.forEach(m => {
  const [a, b, h] = m;
  dgx.push(nodeH[a], h, h, nodeH[b], null);
  dgy.push(nodePos[a], nodePos[a], nodePos[b], nodePos[b], null);
  nodePos.push((nodePos[a] + nodePos[b]) / 2);
  nodeH.push(h);
});
traces.push({type: 'scatter', mode: 'lines', x: dgx, y: dgy, line: {color: C.dendro, width: 1}, xaxis: dg.x, yaxis: dg.y, hoverinfo: 'skip'});
const cellH = (hmBot - hmTop) / 7;
corrLabels.forEach((l, i) => txt(133, hmTop + cellH * (i + 0.5) + 1, l, {xanchor: 'left'}));
seg(163, 258, 163, 286, C.ink, 1);
seg(163, 289, 163, 317, C.ink, 1);
seg(163, 320, 163, 362, C.ink, 1);
txt(172, 267, 'Lamin B1', {xanchor: 'left'});
txt(172, 280, 'log2FC: Lamin B1 vs. Control', {xanchor: 'left'});
txt(172, 307, 'Hi-C, PC1', {xanchor: 'left'});
txt(172, 332, 'H3K9me2', {xanchor: 'left'});
txt(172, 346, 'log2FC: sh-Jmjd1a vs. sh-Empty', {xanchor: 'left'});

// ---------- Panel C ----------
txt(343, 240, '<b>C</b>', {xanchor: 'left'}, 10.5);
const borderTicks = {range: [-1, 1], tickvals: [-1, 0, 1], ticktext: ['-1', 'Border', '1']};
const cL = addAxes(400, 466, 271, 355, fr(borderTicks),
  fr({range: [-0.85, 0.5], tickvals: [-0.8, -0.4, 0, 0.4], ticktext: ['-0.8', '-0.4', '0', '0.4']}));
const cH = addAxes(574, 641, 271, 355, fr(borderTicks),
  fr({range: [-0.85, 0.85], tickvals: [-0.75, -0.25, 0.25, 0.75], ticktext: ['-0.75', '-0.25', '0.25', '0.75']}));
[cL, cH].forEach(ax => layout.shapes.push({type: 'line', xref: ax.x, yref: ax.y + ' domain', x0: 0, x1: 0, y0: 0, y1: 1,
  line: {color: '#444', width: 1, dash: '3px,2px'}}));
lineTrace(cL, borderX, borderLaminD9, C.teal, 1.3);
lineTrace(cL, borderX, borderLaminD0, C.ink, 1.3);
lineTrace(cH, borderX, borderPC1D2, C.hic2, 3);
lineTrace(cH, borderX, borderPC1D0, C.ink, 1.3);
txt(433, 255, 'Lamin B1');
txt(608, 255, 'Hi-C');
txt(362, 313, 'log2FC<br>(Lamin B1 vs. Control)', {textangle: -90});
txt(537, 313, 'PC1 value', {textangle: -90});
txt(473, 362, '(Mb)', {xanchor: 'left'}, TF);
txt(647, 362, '(Mb)', {xanchor: 'left'}, TF);
legendBlock(471, [302, 313], ['Day 0', 'Day 9'], [C.ink, C.teal]);
legendBlock(653, [300, 311], ['Day 0', 'Day 2'], [C.ink, C.hic2]);

// ---------- Panel D ----------
txt(4, 419, '<b>D</b>', {xanchor: 'left'}, 10.5);
txt(20, 419, 'K-means (k=3) of H3K9me2 levels across 2,021 LADs specific to preadipocytes', {xanchor: 'left'});
txt(133, 436, 'Regions');
txt(187, 436, 'H3K9me2');
seg(60, 442, 213, 442, C.ink, 1);
clusterNames.forEach((n, i) => {
  const y = 448.5 + i * 12.5;
  txt(60, y, n, {xanchor: 'left'});
  txt(152, y, clusterRegions[i], {xanchor: 'right'});
  txt(184, y, clusterLevel[i]);
});
const centerTicks = {range: [-0.5, 0.5], tickvals: [-0.5, 0, 0.5], ticktext: ['-0.5', 'Center', '0.5']};
const cutY = fr({range: [0.05, 0.13], tickvals: [0.05, 0.075, 0.1, 0.125], ticktext: ['0.050', '0.075', '0.100', '0.125']});
txt(212, 506, 'H3K9me2 CUT&Tag');
seg(140, 516, 283, 516, C.ink, 1);
txt(167, 527, 'sh-Empty');
txt(265, 527, 'sh-Jmjd1a');
const dayLabels3 = ['Day 0', 'Day 2', 'Day 8'];
const dayColors3 = [C.ink, C.day2, C.day8];
function threeDays(ax, d0, d2, d8) {
  lineTrace(ax, centerX, d8, C.day8, 1);
  lineTrace(ax, centerX, d2, C.day2, 1);
  lineTrace(ax, centerX, d0, C.ink, 1);
}
const ct11 = addAxes(133, 199, 545, 608, fr(centerTicks), cutY);
const ct12 = addAxes(233, 299, 545, 608, fr(centerTicks), cutY);
const ct21 = addAxes(133, 199, 628, 690, fr(centerTicks), cutY);
const ct22 = addAxes(233, 299, 628, 690, fr(centerTicks), cutY);
threeDays(ct11, ctB1EmptyD0, ctB1EmptyD2, ctB1EmptyD8);
threeDays(ct12, ctB1JmjdD0, ctB1JmjdD2, ctB1JmjdD8);
threeDays(ct21, ctB2EmptyD0, ctB2EmptyD2, ctB2EmptyD8);
threeDays(ct22, ctB2JmjdD0, ctB2JmjdD2, ctB2JmjdD8);
txt(45, 574, '<b>Cluster B1</b>');
txt(45, 652, '<b>Cluster B2</b>');
txt(87, 617, 'Normalized CUT&Tag signals', {textangle: -90});
seg(97, 545, 97, 690, C.ink, 1);
txt(308, 618, '(Mb)', {xanchor: 'left'}, TF);
txt(308, 701, '(Mb)', {xanchor: 'left'}, TF);
legendBlock(304, [558, 569.5, 581], dayLabels3, dayColors3);
legendBlock(304, [643, 655, 667], dayLabels3, dayColors3);

// Lamin B1 profiles
const lamY = {tickvals: [-0.5, -0.25, 0, 0.25, 0.5], ticktext: ['-0.50', '-0.25', '0', '0.25', '0.50']};
const lm1 = addAxes(405, 470, 537, 600, fr(centerTicks), fr(Object.assign({range: [-0.535, 0.57]}, lamY)));
const lm2 = addAxes(405, 470, 621, 685, fr(centerTicks), fr(Object.assign({range: [-0.55, 0.57]}, lamY)));
[lm1, lm2].forEach(ax => layout.shapes.push({type: 'line', xref: ax.x + ' domain', yref: ax.y, x0: 0, x1: 1, y0: 0, y1: 0,
  line: {color: '#777', width: 0.8, dash: '2px,2px'}}));
lineTrace(lm1, centerX, lmB1D9, C.teal, 1);
lineTrace(lm1, centerX, lmB1D0, C.ink, 1);
lineTrace(lm2, centerX, lmB2D9, C.teal, 1);
lineTrace(lm2, centerX, lmB2D0, C.ink, 1);
txt(428, 514, 'Lamin B1 (GSE150507)');
txt(360, 611, 'log2FC (Lamin B1 vs. Control)', {textangle: -90});
seg(369, 537, 369, 685, C.ink, 1);
txt(479, 610, '(Mb)', {xanchor: 'left'}, TF);
txt(479, 694, '(Mb)', {xanchor: 'left'}, TF);
legendBlock(476, [560, 571], ['Day 0', 'Day 9'], [C.ink, C.teal]);
legendBlock(476, [648, 661], ['Day 0', 'Day 9'], [C.ink, C.teal]);

// box plots at cluster centers
const catX = {type: 'category', range: [-0.5, 1.5], tickangle: -90, tickfont: {size: LF, color: C.ink}};
const bx0 = addAxes(569, 623, 545, 651, fr(catX),
  fr({range: [-0.53, 2.78], tickvals: [-0.5, 0, 0.5, 1, 1.5, 2, 2.5], ticktext: ['-0.5', '0', '0.5', '1.0', '1.5', '2.0', '2.5']}));
const bx9 = addAxes(653, 705, 545, 651, fr(catX),
  fr({range: [-1.78, 1.23], tickvals: [-1.5, -1, -0.5, 0, 0.5, 1], ticktext: ['-1.5', '-1.0', '-0.5', '0', '0.5', '1.0']}));
[bx0, bx9].forEach(ax => layout.shapes.push({type: 'line', xref: ax.x + ' domain', yref: ax.y, x0: 0, x1: 1, y0: 0, y1: 0,
  line: {color: '#777', width: 0.8, dash: '2px,2px'}, layer: 'below'}));
function boxes(ax, st, color) {
  traces.push({type: 'box', x: boxCats, q1: st.q1, median: st.median, q3: st.q3, lowerfence: st.lo, upperfence: st.hi,
    boxpoints: false, fillcolor: '#ffffff', line: {color: color, width: 1}, width: 0.55, whiskerwidth: 0.55,
    xaxis: ax.x, yaxis: ax.y, hoverinfo: 'skip'});
}
function outliers(ax, cat, vals, color, sym) {
  traces.push({type: 'scatter', mode: 'markers', x: vals.map(() => cat), y: vals,
    marker: {symbol: sym, size: 3.5, color: color, line: {color: color, width: 0.8}}, xaxis: ax.x, yaxis: ax.y, hoverinfo: 'skip'});
}
boxes(bx0, boxD0, C.ink);
boxes(bx9, boxD9, C.teal);
outliers(bx0, boxCats[0], outD0B1, C.ink, 'circle-open');
outliers(bx0, boxCats[1], outD0B2, C.ink, 'circle-open');
outliers(bx9, boxCats[0], outD9B1, C.teal, 'circle');
outliers(bx9, boxCats[1], outD9B2, C.teal, 'circle');
txt(628, 513, 'Lamin B1 (GSE150507)');
txt(597, 531, 'Day 0');
txt(679, 531, 'Day 9');
txt(597, 551, '***', {}, 9.5);
seg(584, 558, 609, 558, C.ink, 1);
txt(680, 550, 'NS');
seg(667, 558, 693, 558, C.ink, 1);
txt(538, 622, 'log2FC (Lamin B1 vs. Control) at Center', {textangle: -90});

// ---------- Panel E ----------
txt(4, 751, '<b>E</b>', {xanchor: 'left'}, 10.5);
txt(212, 753, 'H3K9me2 ChIP-seq (GSE174136)');
seg(132, 761, 288, 761, C.ink, 1);
txt(166, 773, 'DFO(-)');
txt(265, 773, 'DFO(+)');
const chipY = fr({range: [0.175, 0.302], tickvals: [0.175, 0.2, 0.225, 0.25, 0.275, 0.3],
  ticktext: ['0.175', '0.200', '0.225', '0.250', '0.275', '0.300']});
const ch11 = addAxes(133, 199, 783, 845, fr(centerTicks), chipY);
const ch12 = addAxes(233, 298, 783, 845, fr(centerTicks), chipY);
const ch21 = addAxes(133, 199, 868, 929, fr(centerTicks), chipY);
const ch22 = addAxes(233, 298, 868, 929, fr(centerTicks), chipY);
// Day 0 is one shared sample, drawn in both DFO(-) and DFO(+)
threeDays(ch11, chipB1D0, chipB1MinusD2, chipB1MinusD8);
threeDays(ch12, chipB1D0, chipB1PlusD2, chipB1PlusD8);
threeDays(ch21, chipB2D0, chipB2MinusD2, chipB2MinusD8);
threeDays(ch22, chipB2D0, chipB2PlusD2, chipB2PlusD8);
txt(45, 815, '<b>Cluster B1</b>');
txt(45, 898, '<b>Cluster B2</b>');
txt(84, 856, 'Normalized ChIP-seq signals', {textangle: -90});
seg(93, 783, 93, 929, C.ink, 1);
txt(307, 855, '(Mb)', {xanchor: 'left'}, TF);
txt(307, 939, '(Mb)', {xanchor: 'left'}, TF);
const chipLegend = ['Day 0 (Common data used for DFO(-), DFO (+))', 'Day 2', 'Day 8'];
legendBlock(311, [804, 816, 827], chipLegend, dayColors3);
legendBlock(311, [891, 903, 914], chipLegend, dayColors3);

Plotly.newPlot('fig', traces, layout, {staticPlot: true, displayModeBar: false});
</script>
</body>
</html>
